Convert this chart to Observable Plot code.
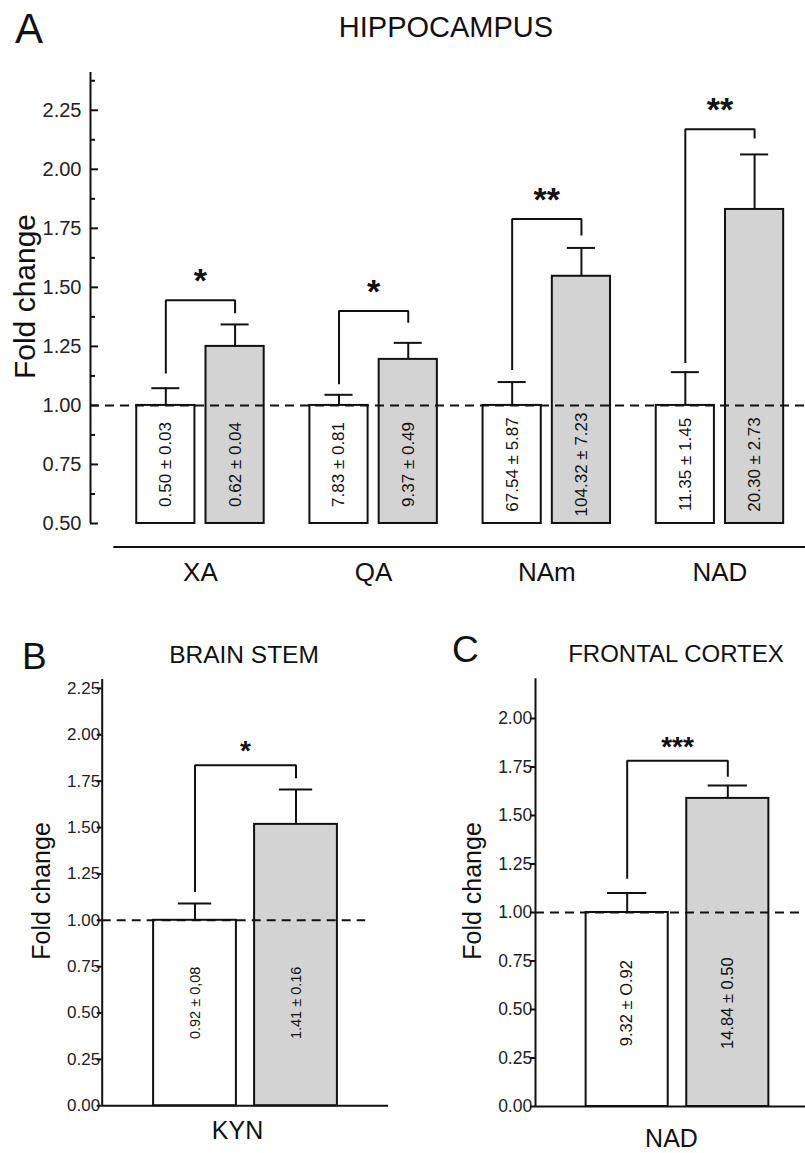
<!DOCTYPE html>
<html>
<head>
<meta charset="utf-8">
<script src="https://cdn.jsdelivr.net/npm/d3@7"></script>
<script src="https://cdn.jsdelivr.net/npm/@observablehq/plot@0.6"></script>
<style>
  body { margin: 0; background: #fff; }
  #root { position: relative; width: 805px; height: 1153px; overflow: hidden; background: #fff; }
  #root svg { position: absolute; }
</style>
</head>
<body>
<div id="root"></div>
<script>
const FONT = '"Liberation Sans", Arial, Helvetica, sans-serif';
const GRAY = "#d3d3d3";
const INK = "#111";

// ---------- Panel A: HIPPOCAMPUS ----------
const groupsA = ["XA", "QA", "NAm", "NAD"];
const controlA = [1, 1, 1, 1];
const treatedA = [1.25, 1.195, 1.547, 1.83];
const controlErrA = [0.073, 0.045, 0.099, 0.141];
const treatedErrA = [0.093, 0.07, 0.12, 0.233];
const controlLabelsA = ["0.50 ± 0.03", "7.83 ± 0.81", "67.54 ± 5.87", "11.35 ± 1.45"];
const treatedLabelsA = ["0.62 ± 0.04", "9.37 ± 0.49", "104.32 ± 7.23", "20.30 ± 2.73"];
const sigA = ["*", "*", "**", "**"];
const bracketTopA = [1.445, 1.40, 1.79, 2.17];
const bracketLeftEndA = [1.135, 1.09, 1.15, 1.18];
const bracketRightEndA = [1.39, 1.35, 1.72, 2.13];
const yTicksA = [0.5, 0.75, 1.0, 1.25, 1.5, 1.75, 2.0, 2.25];
const yMinorTicksA = [0.625, 0.875, 1.125, 1.375, 1.625, 1.875, 2.125, 2.375];

// ---------- Panel B: BRAIN STEM ----------
const groupsB = ["KYN"];
const controlB = [1.0];
const treatedB = [1.517];
const controlErrB = [0.091];
const treatedErrB = [0.188];
const controlLabelsB = ["0.92 ± 0,08"];
const treatedLabelsB = ["1.41 ± 0.16"];
const sigB = ["*"];
const bracketTopB = [1.836];
const bracketLeftEndB = [1.153];
const bracketRightEndB = [1.766];
const yTicksB = [0, 0.25, 0.5, 0.75, 1.0, 1.25, 1.5, 1.75, 2.0, 2.25];

// ---------- Panel C: FRONTAL CORTEX ----------
const groupsC = ["NAD"];
const controlC = [1.0];
const treatedC = [1.588];
const controlErrC = [0.10];
const treatedErrC = [0.067];
const controlLabelsC = ["9.32 ± O.92"];
const treatedLabelsC = ["14.84 ± 0.50"];
const sigC = ["***"];
const bracketTopC = [1.782];
const bracketLeftEndC = [1.174];
const bracketRightEndC = [1.70];
const yTicksC = [0, 0.25, 0.5, 0.75, 1.0, 1.25, 1.5, 1.75, 2.0];

function barRows(groups, ctrl, trt, ctrlErr, trtErr, ctrlLab, trtLab, off) {
  return groups.flatMap((g, i) => [
    {g, cond: "control", x: i - off, v: ctrl[i], e: ctrl[i] + ctrlErr[i], label: ctrlLab[i]},
    {g, cond: "treated", x: i + off, v: trt[i], e: trt[i] + trtErr[i], label: trtLab[i]}
  ]);
}
function bracketRows(groups, top, leftEnd, rightEnd, off) {
  return groups.flatMap((g, i) => [
    {g, x: i - off, y: leftEnd[i]},
    {g, x: i - off, y: top[i]},
    {g, x: i + off, y: top[i]},
    {g, x: i + off, y: rightEnd[i]}
  ]);
}

function panel(cfg) {
  const rows = barRows(cfg.groups, cfg.ctrl, cfg.trt, cfg.ctrlErr, cfg.trtErr, cfg.ctrlLab, cfg.trtLab, cfg.off);
  const br = bracketRows(cfg.groups, cfg.top, cfg.leftEnd, cfg.rightEnd, cfg.off);
  const [x0, x1] = cfg.xDomain;
  const [y0, y1] = cfg.yDomain;
  const hw = cfg.halfWidth, cap = cfg.capHalf;
  const marks = [
    Plot.rect(rows.filter(d => d.cond === "control"), {x1: d => d.x - hw, x2: d => d.x + hw, y1: cfg.base, y2: "v", fill: "white", stroke: INK, strokeWidth: 2}),
    Plot.rect(rows.filter(d => d.cond === "treated"), {x1: d => d.x - hw, x2: d => d.x + hw, y1: cfg.base, y2: "v", fill: GRAY, stroke: INK, strokeWidth: 2}),
    Plot.ruleY([1], {x1: x0, x2: cfg.dashEnd, stroke: INK, strokeWidth: 2, strokeDasharray: "9,6"}),
    Plot.ruleX(rows, {x: "x", y1: "v", y2: "e", stroke: INK, strokeWidth: 2}),
    Plot.ruleY(rows, {y: "e", x1: d => d.x - cap, x2: d => d.x + cap, stroke: INK, strokeWidth: 2}),
    Plot.line(br, {x: "x", y: "y", z: "g", stroke: INK, strokeWidth: 2, strokeLinejoin: "miter", strokeLinecap: "butt"}),
    Plot.text(cfg.groups, {x: (d, i) => i, y: (d, i) => cfg.top[i], text: (d, i) => cfg.sig[i], lineAnchor: "bottom", dy: cfg.starDy, fontSize: cfg.starSize, fontWeight: "bold", fill: INK}),
    Plot.text(rows, {x: "x", y: cfg.labelY, text: "label", rotate: -90, fontSize: cfg.labelSize, fill: INK}),
    // axis lines
    Plot.ruleX([x0], {y1: cfg.axisBottom, y2: y1, stroke: INK, strokeWidth: 2}),
    Plot.ruleY([y0], {x1: cfg.baseLineStart, x2: x1, stroke: INK, strokeWidth: 2}),
    // y axis labels
    Plot.axisY(cfg.yTicks, {tickSize: 0, tickPadding: cfg.tickPadding, fontSize: cfg.tickFont, tickFormat: d3.format(".2f"), fill: "#222", label: null}),
    Plot.axisY(cfg.yTicks, {tickSize: cfg.tickSize, fill: "none", stroke: INK, strokeWidth: 2, label: null}),
    // x axis labels
    Plot.axisX(cfg.groups.map((d, i) => i), {tickSize: 0, tickPadding: cfg.xPad, tickFormat: i => cfg.groups[i], fontSize: cfg.xFont, dx: cfg.xDx, fill: INK, label: null})
  ];
  if (cfg.minorTicks) marks.push(Plot.axisY(cfg.minorTicks, {tickSize: cfg.minorSize, fill: "none", stroke: INK, strokeWidth: 2, label: null}));
  const svg = Plot.plot({
    width: cfg.width, height: cfg.height,
    marginLeft: cfg.ml, marginRight: cfg.mr, marginTop: cfg.mt, marginBottom: cfg.mb,
    x: {domain: cfg.xDomain}, y: {domain: cfg.yDomain},
    style: {fontFamily: FONT, background: "transparent", color: INK, overflow: "visible"},
    marks
  });
  svg.style.left = cfg.left + "px";
  svg.style.top = cfg.topPx + "px";
  return svg;
}

const root = document.getElementById("root");

root.appendChild(panel({
  groups: groupsA, ctrl: controlA, trt: treatedA, ctrlErr: controlErrA, trtErr: treatedErrA,
  ctrlLab: controlLabelsA, trtLab: treatedLabelsA, sig: sigA,
  top: bracketTopA, leftEnd: bracketLeftEndA, rightEnd: bracketRightEndA,
  off: 0.2, halfWidth: 0.168, capHalf: 0.081, base: 0.5,
  xDomain: [-0.635, 3.494], yDomain: [0.4, 2.41], axisBottom: 0.5, baseLineStart: -0.5,
  dashEnd: 3.494, labelY: 0.75, labelSize: 17, starSize: 34, starDy: -8,
  yTicks: yTicksA, minorTicks: yMinorTicksA, tickSize: -8, minorSize: -5, tickPadding: 9, tickFont: 20,
  xPad: 15.6, xFont: 26, xDx: 0,
  width: 805, height: 600, ml: 90, mr: 0, mt: 72, mb: 53.4, left: 0, topPx: 0
}));

root.appendChild(panel({
  groups: groupsB, ctrl: controlB, trt: treatedB, ctrlErr: controlErrB, trtErr: treatedErrB,
  ctrlLab: controlLabelsB, trtLab: treatedLabelsB, sig: sigB,
  top: bracketTopB, leftEnd: bracketLeftEndB, rightEnd: bracketRightEndB,
  off: 0.5, halfWidth: 0.41, capHalf: 0.165, base: 0,
  xDomain: [-1.419, 1.416], yDomain: [0, 2.298], axisBottom: 0, baseLineStart: -1.419,
  dashEnd: 1.19, labelY: 0.555, labelSize: 14.5, starSize: 28, starDy: -5,
  yTicks: yTicksB, minorTicks: null, tickSize: 5, tickPadding: 2, tickFont: 17,
  xPad: 15, xFont: 25, xDx: -8,
  width: 400, height: 553, ml: 101.7, mr: 12, mt: 79, mb: 47.7, left: 0, topPx: 600
}));

root.appendChild(panel({
  groups: groupsC, ctrl: controlC, trt: treatedC, ctrlErr: controlErrC, trtErr: treatedErrC,
  ctrlLab: controlLabelsC, trtLab: treatedLabelsC, sig: sigC,
  top: bracketTopC, leftEnd: bracketLeftEndC, rightEnd: bracketRightEndC,
  off: 0.5, halfWidth: 0.408, capHalf: 0.195, base: 0,
  xDomain: [-1.411, 1.272], yDomain: [0, 2.205], axisBottom: 0, baseLineStart: -1.411,
  dashEnd: 1.272, labelY: 0.533, labelSize: 16.5, starSize: 28, starDy: -5,
  yTicks: yTicksC, minorTicks: null, tickSize: 5, tickPadding: 3.3, tickFont: 17.5,
  xPad: 23, xFont: 25, xDx: -6,
  width: 405, height: 553, ml: 135, mr: 0, mt: 78.2, mb: 47, left: 400, topPx: 600
}));

// ---------- Titles, panel letters, y-axis titles ----------
const overlay = d3.select(root).append("svg")
  .attr("width", 805).attr("height", 1153)
  .style("left", "0px").style("top", "0px").style("pointer-events", "none")
  .style("font-family", FONT).attr("fill", INK);

const texts = [
  {t: "A", x: 15, y: 43.3, s: 42, a: "start"},
  {t: "HIPPOCAMPUS", x: 446, y: 37.3, s: 29, a: "middle"},
  {t: "B", x: 22, y: 668.7, s: 37, a: "start"},
  {t: "BRAIN STEM", x: 244, y: 662.7, s: 24.5, a: "middle"},
  {t: "C", x: 452, y: 662, s: 37, a: "start"},
  {t: "FRONTAL CORTEX", x: 676, y: 661.6, s: 24, a: "middle"}
];
overlay.selectAll("text.t").data(texts).join("text")
  .attr("class", "t").attr("x", d => d.x).attr("y", d => d.y)
  .attr("font-size", d => d.s).attr("text-anchor", d => d.a).text(d => d.t);

const ylabels = [
  {x: 34.8, y: 296.5, s: 30},
  {x: 49.6, y: 891, s: 25},
  {x: 481, y: 891, s: 25}
];
overlay.selectAll("text.yl").data(ylabels).join("text")
  .attr("class", "yl").attr("transform", d => `translate(${d.x},${d.y}) rotate(-90)`)
  .attr("font-size", d => d.s).attr("text-anchor", "middle").text("Fold change");
</script>
</body>
</html>
